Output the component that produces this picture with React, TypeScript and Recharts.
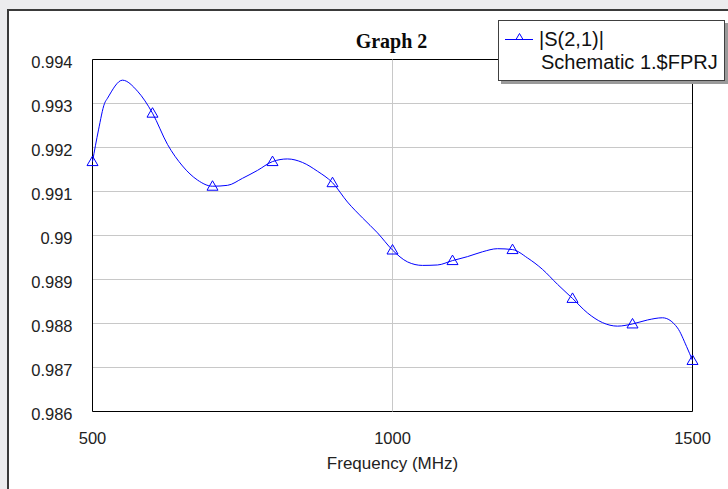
import {
  CartesianGrid,
  Legend,
  Line,
  LineChart,
  ReferenceArea,
  ReferenceLine,
  XAxis,
  YAxis,
} from "recharts";

// values (MHz, |S21|)
const FREQ_MHZ = [
  500, 510, 520, 525, 550, 575, 600, 625, 650, 675, 700, 725, 750, 775, 800,
  825, 850, 875, 900, 925, 950, 975, 1000, 1025, 1050, 1075, 1100, 1125, 1150,
  1175, 1200, 1225, 1250, 1275, 1300, 1325, 1350, 1375, 1400, 1425, 1450, 1475,
  1490, 1500,
];
const S21_MAG = [
  0.99168, 0.9924, 0.993, 0.99312, 0.99353, 0.99328, 0.99278, 0.99207, 0.99158,
  0.99126, 0.99112, 0.99114, 0.9913, 0.99148, 0.99168, 0.99174, 0.99166,
  0.99146, 0.9912, 0.99076, 0.9904, 0.99006, 0.98967, 0.9894, 0.98932, 0.98933,
  0.98943, 0.98952, 0.98963, 0.9897, 0.98968, 0.98949, 0.98923, 0.98889,
  0.98857, 0.98824, 0.98802, 0.98794, 0.98799, 0.98808, 0.98813, 0.9879,
  0.98748, 0.98716,
];
const MARKER_FREQ_MHZ = [500, 600, 700, 800, 900, 1000, 1100, 1200, 1300, 1400, 1500];
const X_TICKS = [500, 1000, 1500];
const Y_TICKS = [0.986, 0.987, 0.988, 0.989, 0.99, 0.991, 0.992, 0.993, 0.994];

const data = FREQ_MHZ.map((f, i) => ({ freq: f, s21: S21_MAG[i] }));

const SANS = "'Liberation Sans', Arial, sans-serif";
const BLUE = "#0000ff";

function TriangleDot(props: any) {
  const { cx, cy, payload, index } = props;
  if (!MARKER_FREQ_MHZ.includes(payload.freq)) return <g key={index} />;
  return (
    <polygon
      key={index}
      points={`${cx},${cy - 5.5} ${cx - 5.5},${cy + 4} ${cx + 5.5},${cy + 4}`}
      fill="none"
      stroke={BLUE}
      strokeWidth={1}
    />
  );
}

function YTick(props: any) {
  const { x, y, payload } = props;
  return (
    <text x={x} y={y + 3} dy="0.355em" textAnchor="end" fontSize={16.5} fontFamily={SANS} fill="#222">
      {String(Number(Number(payload.value).toFixed(3)))}
    </text>
  );
}

function XTick(props: any) {
  const { x, y, payload } = props;
  return (
    <text x={x} y={y + 27} dy="0.355em" textAnchor="middle" fontSize={16.5} fontFamily={SANS} fill="#222">
      {payload.value}
    </text>
  );
}

function LegendBox() {
  return (
    <div
      style={{
        position: "relative",
        width: 225,
        height: 59,
        border: "1px solid #404040",
        background: "#fff",
        boxShadow: "3px 3px 0 #9a9a9a",
        fontFamily: SANS,
        fontSize: 20,
        color: "#111",
      }}
    >
      <svg width={36} height={24} style={{ position: "absolute", left: 0, top: 0 }}>
        <line x1={6} y1={18.5} x2={34} y2={18.5} stroke={BLUE} strokeWidth={1} />
        <polygon points="20.5,12.5 17,18.5 24,18.5" fill="none" stroke={BLUE} strokeWidth={1} />
      </svg>
      <div style={{ position: "absolute", left: 40, top: 7, lineHeight: "23px", whiteSpace: "nowrap" }}>
        |S(2,1)|
      </div>
      <div style={{ position: "absolute", left: 42, top: 30, lineHeight: "23px", whiteSpace: "nowrap" }}>
        Schematic 1.$FPRJ
      </div>
    </div>
  );
}

export default function App() {
  return (
    <div
      style={{
        position: "absolute",
        left: 0,
        top: 0,
        width: 728,
        height: 489,
        overflow: "hidden",
        background: "#ececee",
      }}
    >
      <div
        style={{
          position: "absolute",
          left: 7,
          top: 9,
          width: 740,
          height: 500,
          borderLeft: "2px solid #3a3a3a",
          borderTop: "2px solid #3a3a3a",
          background: "#fff",
        }}
      />
      <div
        style={{
          position: "absolute",
          left: 0,
          width: 728,
          top: 28,
          textAlign: "center",
          paddingLeft: 55,
          boxSizing: "border-box",
          fontFamily: "'Liberation Serif', 'Times New Roman', serif",
          fontWeight: "bold",
          fontSize: 20,
          lineHeight: "26px",
          color: "#0a0a0a",
        }}
      >
        Graph 2
      </div>
      <div style={{ position: "absolute", left: 0, top: 0 }}>
        <LineChart
          width={728}
          height={489}
          data={data}
          margin={{ top: 59.5, right: 35.5, bottom: 0.5, left: 0.5 }}
        >
          <CartesianGrid horizontal vertical={false} stroke="#c8c8c8" />
          <ReferenceLine x={1000} stroke="#c8c8c8" />
          <XAxis
            dataKey="freq"
            type="number"
            domain={[500, 1500]}
            ticks={X_TICKS}
            height={77}
            axisLine={false}
            tickLine={false}
            tickSize={0}
            tickMargin={0}
            tick={<XTick />}
            label={{
              value: "Frequency (MHz)",
              position: "insideBottom",
              offset: 20,
              fontSize: 17,
              fontFamily: SANS,
              fill: "#222",
            }}
          />
          <YAxis
            type="number"
            domain={[0.986, 0.994]}
            ticks={Y_TICKS}
            allowDataOverflow
            width={92}
            axisLine={false}
            tickLine={false}
            tickSize={0}
            tickMargin={20}
            tick={<YTick />}
          />
          <ReferenceArea
            x1={500}
            x2={1500}
            y1={0.986}
            y2={0.994}
            fill="none"
            stroke="#000"
            strokeWidth={1}
            ifOverflow="visible"
          />
          <Legend
            layout="horizontal"
            verticalAlign="middle"
            content={() => <LegendBox />}
            wrapperStyle={{ top: 20, left: 498, width: 230, height: 65 }}
          />
          <Line
            type="monotone"
            dataKey="s21"
            stroke={BLUE}
            strokeWidth={1}
            dot={TriangleDot}
            activeDot={false}
            isAnimationActive={false}
          />
        </LineChart>
      </div>
    </div>
  );
}
